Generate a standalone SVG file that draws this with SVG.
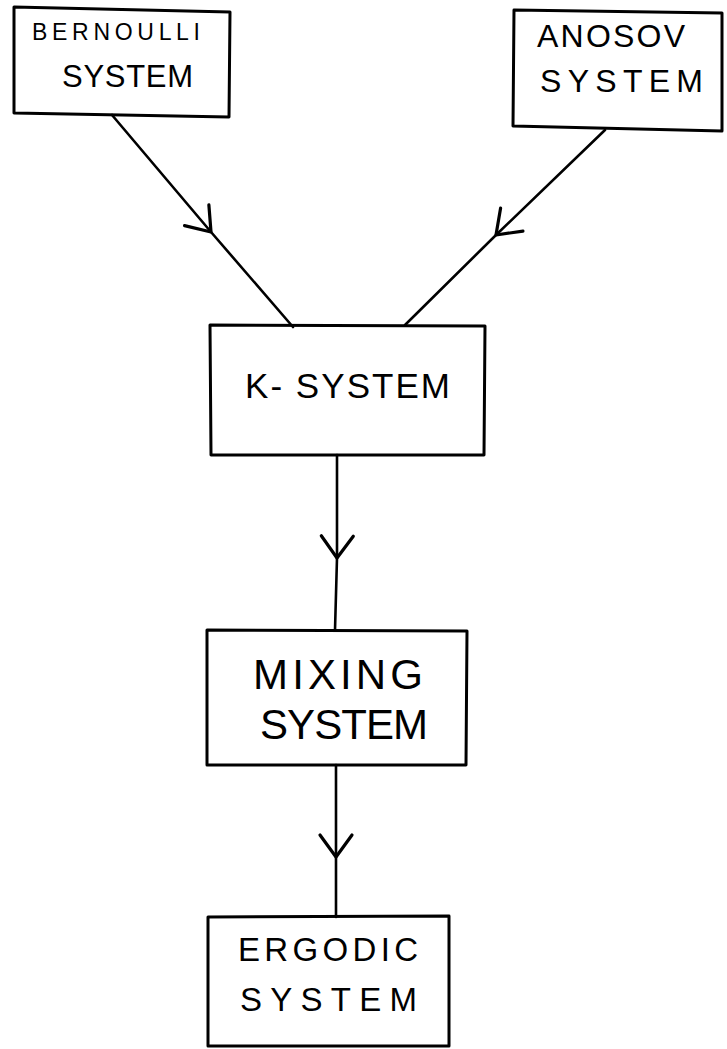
<svg xmlns="http://www.w3.org/2000/svg" width="727" height="1049" viewBox="0 0 727 1049">
<style>
.box{fill:none;stroke:#000;stroke-width:3;stroke-linejoin:round}
.conn{fill:none;stroke:#000;stroke-width:2.6;stroke-linecap:round}
.t{font-family:"Liberation Sans",Arial,sans-serif;fill:#000;font-weight:normal}
</style>
<defs>
<marker id="vhead" markerUnits="userSpaceOnUse" markerWidth="60" markerHeight="60" refX="0" refY="0" viewBox="-30 -30 60 60" orient="auto" overflow="visible">
<path d="M-22,-16 L0,0 L-22,16" fill="none" stroke="#000" stroke-width="3.2" stroke-linecap="round" stroke-linejoin="round"/>
</marker>
</defs>
<rect width="727" height="1049" fill="#fff"/>
<g id="connectors">
<polyline class="conn" points="112,115 211,232 293,327" marker-mid="url(#vhead)"/>
<polyline class="conn" points="605,130 496,235 405,325" marker-mid="url(#vhead)"/>
<polyline class="conn" points="337,455 337,558 335,630" marker-mid="url(#vhead)"/>
<polyline class="conn" points="336,765 336,857 336,917" marker-mid="url(#vhead)"/>
</g>
<g id="bernoulli">
<path class="box" d="M14,7 L230,12 L229,117 L14,113 Z"/>
<text class="t" x="32" y="40" font-size="23" textLength="168" lengthAdjust="spacing">BERNOULLI</text>
<text class="t" x="62" y="87" font-size="31" textLength="131" lengthAdjust="spacing">SYSTEM</text>
</g>
<g id="anosov">
<path class="box" d="M514,10 L722,13 L722,131 L513,126 Z"/>
<text class="t" x="537" y="47" font-size="32" textLength="148" lengthAdjust="spacing">ANOSOV</text>
<text class="t" x="540" y="92" font-size="32" textLength="163" lengthAdjust="spacing">SYSTEM</text>
</g>
<g id="k-system">
<path class="box" d="M210,325 L485,326 L484,455 L211,455 Z"/>
<text class="t" x="245" y="398" font-size="35" textLength="205" lengthAdjust="spacing">K- SYSTEM</text>
</g>
<g id="mixing">
<path class="box" d="M207,630 L467,631 L466,765 L207,765 Z"/>
<text class="t" x="253" y="689" font-size="42" textLength="170" lengthAdjust="spacing">MIXING</text>
<text class="t" x="260" y="739" font-size="42" textLength="168" lengthAdjust="spacing">SYSTEM</text>
</g>
<g id="ergodic">
<path class="box" d="M208,917 L449,916 L449,1046 L208,1046 Z"/>
<text class="t" x="238" y="961" font-size="33" textLength="180" lengthAdjust="spacing">ERGODIC</text>
<text class="t" x="240" y="1011" font-size="33" textLength="177" lengthAdjust="spacing">SYSTEM</text>
</g>
</svg>
